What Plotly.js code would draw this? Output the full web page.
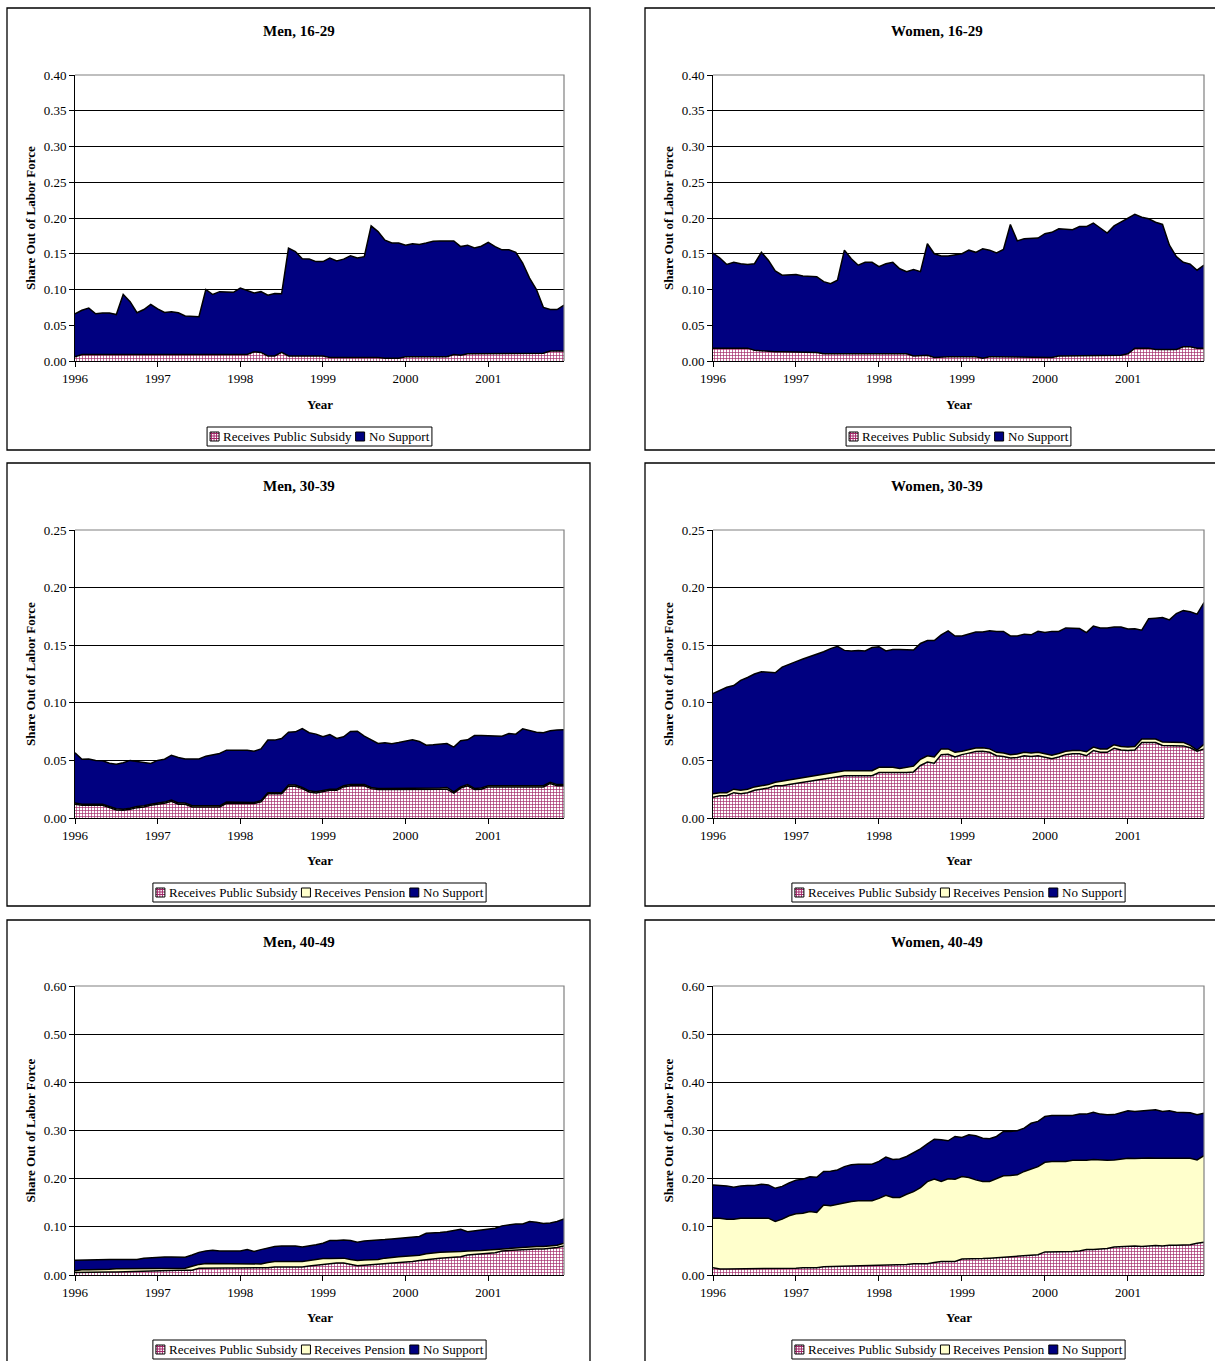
<!DOCTYPE html>
<html><head><meta charset="utf-8">
<script src="https://cdn.plot.ly/plotly-3.0.1.min.js"></script>
<style>html,body{margin:0;padding:0;background:#fff;} #chart{width:1215px;height:1361px;}</style>
</head><body><div id="chart"></div>
<script>
// ---------- DATA (monthly, Jan 1996 - Dec 2001) ----------
const years = ['1996','1997','1998','1999','2000','2001'];
const monthLabels = [];
years.forEach(y => { for (let m = 1; m <= 12; m++) monthLabels.push(y + '-' + (m < 10 ? '0' + m : m)); });
const yearTickVals = years.map(y => y + '-01');

// Men, 16-29 (cumulative boundaries)
const men1629Subsidy = [0.006,0.009,0.009,0.009,0.009,0.009,0.009,0.009,0.010,0.009,0.009,0.009,
 0.009,0.009,0.009,0.009,0.009,0.009,0.009,0.009,0.009,0.009,0.009,0.010,
 0.009,0.009,0.013,0.012,0.007,0.007,0.012,0.007,0.007,0.007,0.007,0.007,
 0.007,0.005,0.005,0.005,0.005,0.005,0.006,0.006,0.005,0.004,0.004,0.004,
 0.006,0.006,0.006,0.006,0.006,0.006,0.006,0.009,0.008,0.010,0.010,0.011,
 0.011,0.011,0.011,0.011,0.011,0.011,0.011,0.011,0.011,0.014,0.014,0.014];
const men1629Total = [0.066,0.071,0.074,0.066,0.067,0.067,0.065,0.093,0.083,0.0675,0.072,0.079,
 0.073,0.068,0.069,0.0675,0.063,0.063,0.062,0.100,0.093,0.097,0.097,0.096,
 0.102,0.099,0.095,0.097,0.092,0.0945,0.094,0.158,0.153,0.143,0.1425,0.139,
 0.139,0.144,0.140,0.1425,0.147,0.144,0.146,0.189,0.181,0.169,0.165,0.165,
 0.162,0.164,0.163,0.165,0.1675,0.168,0.1685,0.168,0.160,0.162,0.158,0.1605,
 0.166,0.160,0.1555,0.1555,0.152,0.137,0.116,0.100,0.075,0.072,0.072,0.078];

// Women, 16-29
const women1629Subsidy = [0.018,0.018,0.018,0.018,0.018,0.018,0.015,0.014,0.013,0.013,0.013,0.013,
 0.012,0.012,0.012,0.012,0.010,0.010,0.011,0.011,0.011,0.010,0.010,0.010,
 0.010,0.010,0.010,0.010,0.010,0.007,0.008,0.008,0.005,0.006,0.006,0.006,
 0.006,0.006,0.006,0.004,0.006,0.006,0.006,0.005,0.005,0.005,0.005,0.005,
 0.005,0.005,0.007,0.007,0.007,0.007,0.007,0.007,0.007,0.007,0.007,0.008,
 0.010,0.018,0.018,0.018,0.016,0.016,0.016,0.016,0.020,0.020,0.018,0.018];
const women1629Total = [0.151,0.144,0.135,0.138,0.136,0.135,0.136,0.152,0.141,0.126,0.120,0.120,
 0.121,0.119,0.118,0.118,0.111,0.108,0.113,0.155,0.143,0.134,0.138,0.138,
 0.132,0.136,0.138,0.129,0.125,0.128,0.125,0.164,0.150,0.147,0.147,0.149,
 0.150,0.155,0.152,0.157,0.155,0.151,0.156,0.191,0.168,0.171,0.171,0.172,
 0.178,0.180,0.185,0.184,0.1835,0.188,0.188,0.193,0.186,0.179,0.189,0.194,
 0.199,0.205,0.201,0.199,0.194,0.191,0.162,0.146,0.138,0.1355,0.127,0.134];

// Men, 30-39
const men3039Subsidy = [0.012,0.011,0.011,0.011,0.011,0.009,0.007,0.0067,0.0075,0.009,0.0096,0.011,
 0.0116,0.0128,0.0145,0.012,0.012,0.0096,0.0096,0.0096,0.0096,0.0096,0.0128,0.0125,
 0.0125,0.0125,0.0125,0.014,0.021,0.021,0.021,0.0276,0.0276,0.0255,0.0226,0.0217,
 0.0226,0.024,0.024,0.027,0.028,0.028,0.028,0.0255,0.0247,0.0247,0.0247,0.0247,
 0.0247,0.0247,0.0247,0.0247,0.0247,0.025,0.025,0.0217,0.026,0.028,0.0247,0.025,
 0.027,0.027,0.027,0.027,0.027,0.027,0.027,0.027,0.027,0.030,0.028,0.028];
const men3039PensionTop = [0.013,0.012,0.012,0.012,0.012,0.010,0.008,0.0077,0.0085,0.010,0.0106,0.012,
 0.0126,0.0138,0.0155,0.013,0.013,0.0106,0.0106,0.0106,0.0106,0.0106,0.0138,0.0138,
 0.0138,0.0138,0.0135,0.015,0.022,0.022,0.022,0.0286,0.0286,0.0265,0.0236,0.0227,
 0.0236,0.025,0.025,0.028,0.029,0.029,0.029,0.0265,0.0257,0.0257,0.0257,0.0257,
 0.0257,0.0257,0.0257,0.0257,0.0257,0.026,0.0265,0.0227,0.027,0.029,0.0257,0.026,
 0.028,0.028,0.028,0.028,0.028,0.028,0.028,0.028,0.028,0.031,0.029,0.029];
const men3039Total = [0.0566,0.051,0.0513,0.050,0.0496,0.0476,0.0467,0.048,0.050,0.049,0.0484,0.0473,
 0.050,0.051,0.0545,0.0525,0.0513,0.051,0.0513,0.0537,0.0548,0.056,0.0589,0.0589,
 0.0583,0.0589,0.058,0.060,0.0676,0.0676,0.069,0.0745,0.0748,0.0777,0.074,0.0728,
 0.0705,0.0725,0.069,0.0705,0.0751,0.0754,0.071,0.068,0.0647,0.0653,0.0644,0.0655,
 0.067,0.068,0.0664,0.0632,0.0635,0.0644,0.0647,0.0615,0.067,0.0679,0.0716,0.0716,
 0.0713,0.071,0.071,0.0734,0.0728,0.0774,0.0757,0.0745,0.074,0.0757,0.0763,0.0766];

// Women, 30-39
const women3039Subsidy = [0.018,0.0193,0.0193,0.022,0.021,0.022,0.024,0.025,0.026,0.028,0.028,0.029,
 0.030,0.031,0.032,0.0326,0.034,0.0346,0.036,0.0367,0.0367,0.0367,0.0367,0.0367,
 0.0395,0.0395,0.0395,0.039,0.0395,0.040,0.0456,0.0485,0.0476,0.055,0.0554,0.053,
 0.055,0.0563,0.0577,0.058,0.057,0.054,0.0534,0.052,0.0525,0.054,0.0534,0.054,
 0.0525,0.0514,0.053,0.055,0.0557,0.0557,0.054,0.0586,0.057,0.057,0.0606,0.059,
 0.0586,0.059,0.0655,0.0655,0.0655,0.063,0.063,0.063,0.0626,0.061,0.058,0.060];
const women3039PensionTop = [0.021,0.022,0.022,0.025,0.024,0.025,0.027,0.028,0.029,0.031,0.032,0.033,
 0.034,0.035,0.036,0.0366,0.038,0.0386,0.040,0.041,0.041,0.041,0.041,0.041,
 0.044,0.044,0.044,0.043,0.044,0.045,0.051,0.054,0.053,0.060,0.060,0.057,
 0.058,0.0593,0.0607,0.061,0.060,0.057,0.0564,0.055,0.0555,0.057,0.0564,0.057,
 0.0555,0.0544,0.056,0.058,0.0587,0.0587,0.0575,0.0616,0.060,0.060,0.0636,0.062,
 0.0616,0.062,0.0685,0.0685,0.0685,0.066,0.066,0.066,0.0656,0.063,0.059,0.064];
const women3039Total = [0.108,0.111,0.1135,0.115,0.1195,0.122,0.125,0.127,0.1267,0.126,0.131,0.1337,
 0.1357,0.138,0.140,0.142,0.1443,0.147,0.149,0.1455,0.145,0.1455,0.145,0.148,
 0.1487,0.145,0.1463,0.1463,0.1463,0.1458,0.1515,0.154,0.154,0.159,0.1625,0.158,
 0.158,0.1596,0.1614,0.1614,0.1625,0.162,0.162,0.158,0.158,0.1596,0.159,0.162,
 0.161,0.162,0.162,0.165,0.165,0.1645,0.161,0.1666,0.165,0.165,0.1657,0.1657,
 0.164,0.1643,0.163,0.173,0.1735,0.174,0.172,0.1775,0.180,0.179,0.177,0.187];

// Men, 40-49
const men4049Subsidy = [0.005,0.0055,0.0055,0.0055,0.006,0.006,0.006,0.0065,0.007,0.007,0.008,0.008,
 0.0097,0.0097,0.0097,0.0097,0.0097,0.010,0.014,0.0145,0.0145,0.0145,0.0145,0.0145,
 0.0145,0.015,0.015,0.015,0.015,0.0166,0.0166,0.0166,0.0166,0.0166,0.0187,0.020,
 0.022,0.024,0.025,0.025,0.022,0.019,0.020,0.021,0.022,0.0235,0.025,0.026,
 0.027,0.028,0.030,0.031,0.033,0.0347,0.036,0.036,0.038,0.0416,0.043,0.0437,
 0.045,0.0464,0.050,0.051,0.052,0.052,0.053,0.054,0.054,0.0554,0.057,0.060];
const men4049PensionTop = [0.009,0.011,0.011,0.011,0.012,0.012,0.013,0.013,0.013,0.013,0.014,0.014,
 0.014,0.014,0.014,0.014,0.014,0.018,0.022,0.024,0.024,0.024,0.024,0.024,
 0.024,0.023,0.023,0.023,0.026,0.028,0.028,0.028,0.028,0.028,0.030,0.032,
 0.034,0.034,0.034,0.035,0.032,0.030,0.031,0.032,0.032,0.035,0.037,0.038,
 0.039,0.040,0.041,0.044,0.046,0.047,0.048,0.048,0.049,0.050,0.050,0.051,
 0.052,0.053,0.055,0.056,0.057,0.058,0.059,0.059,0.059,0.060,0.062,0.066];
const men4049Total = [0.0305,0.031,0.031,0.031,0.033,0.032,0.032,0.032,0.032,0.032,0.0347,0.036,
 0.0374,0.0374,0.0374,0.0374,0.037,0.0416,0.047,0.050,0.0513,0.050,0.050,0.050,
 0.050,0.0527,0.049,0.0527,0.0554,0.059,0.060,0.060,0.060,0.058,0.060,0.063,
 0.066,0.0714,0.0714,0.0728,0.0714,0.068,0.0707,0.0714,0.0714,0.0735,0.075,0.0762,
 0.0776,0.0776,0.080,0.0866,0.0866,0.088,0.090,0.092,0.095,0.090,0.0915,0.0935,
 0.0956,0.097,0.102,0.104,0.106,0.106,0.111,0.1095,0.107,0.108,0.111,0.1165];

// Women, 40-49
const women4049Subsidy = [0.0152,0.0125,0.0125,0.0125,0.0125,0.0125,0.0125,0.0125,0.013,0.013,0.0135,0.014,
 0.014,0.015,0.015,0.015,0.017,0.0175,0.018,0.0185,0.019,0.019,0.0195,0.020,
 0.020,0.021,0.021,0.021,0.022,0.0236,0.0236,0.0236,0.026,0.028,0.028,0.028,
 0.033,0.033,0.034,0.034,0.035,0.036,0.037,0.038,0.039,0.040,0.040,0.042,
 0.048,0.048,0.048,0.049,0.049,0.050,0.053,0.053,0.054,0.055,0.058,0.059,
 0.060,0.060,0.059,0.060,0.061,0.060,0.062,0.062,0.062,0.063,0.066,0.068];
const women4049PensionTop = [0.118,0.118,0.116,0.116,0.118,0.118,0.118,0.118,0.118,0.111,0.116,0.123,
 0.127,0.128,0.1317,0.130,0.1455,0.144,0.147,0.149,0.1525,0.154,0.154,0.154,
 0.159,0.1656,0.161,0.161,0.1677,0.173,0.1816,0.194,0.199,0.194,0.1996,0.199,
 0.2044,0.2024,0.1975,0.194,0.194,0.1996,0.206,0.2065,0.208,0.215,0.2197,0.225,
 0.234,0.2356,0.2356,0.2356,0.238,0.238,0.238,0.240,0.239,0.238,0.239,0.241,
 0.2425,0.242,0.243,0.243,0.2425,0.2425,0.2425,0.241,0.241,0.2425,0.239,0.248];
const women4049Total = [0.187,0.1865,0.185,0.182,0.185,0.1857,0.1857,0.1885,0.187,0.180,0.184,0.191,
 0.197,0.199,0.204,0.203,0.215,0.2155,0.218,0.225,0.229,0.230,0.230,0.230,
 0.236,0.245,0.240,0.241,0.246,0.254,0.262,0.272,0.282,0.281,0.2786,0.2876,
 0.2855,0.291,0.289,0.284,0.283,0.2876,0.298,0.298,0.2994,0.305,0.315,0.319,
 0.329,0.331,0.331,0.331,0.331,0.334,0.334,0.338,0.334,0.3326,0.333,0.337,
 0.341,0.3396,0.341,0.341,0.343,0.3396,0.341,0.338,0.338,0.337,0.3326,0.336];

const seriesNames = { sub: 'Receives Public Subsidy', pen: 'Receives Pension', none: 'No Support' };

// ---------- STYLE / LAYOUT ----------
const W = 1215, H = 1361;
const FONT = "'Liberation Serif', 'Times New Roman', Times, serif";
const NAVY = '#000080', CREAM = '#FFFFCC', PINK = '#a3286a';
const px = x => x / W, py = y => 1 - y / H;

const cols = [
  { boxL: 7, boxR: 590, l: 75, r: 564, titleX: 298.5, yTitleX: 30 },
  { boxL: 645, boxR: 1232, l: 713, r: 1204, titleX: 937, yTitleX: 668 }
];
const rows = [
  { boxT: 8, boxB: 450, t: 75, b: 361, titleY: 31, yearY: 404, legT: 427 },
  { boxT: 463, boxB: 906, t: 530, b: 818, titleY: 486, yearY: 860, legT: 883 },
  { boxT: 920, boxB: 1372, t: 986, b: 1275, titleY: 942, yearY: 1317, legT: 1340 }
];

const panels = [
  { title: 'Men, 16-29', c: 0, r: 0, ymax: 0.40, dtick: 0.05, layers: [['sub', men1629Subsidy], ['none', men1629Total]] },
  { title: 'Women, 16-29', c: 1, r: 0, ymax: 0.40, dtick: 0.05, layers: [['sub', women1629Subsidy], ['none', women1629Total]] },
  { title: 'Men, 30-39', c: 0, r: 1, ymax: 0.25, dtick: 0.05, layers: [['sub', men3039Subsidy], ['pen', men3039PensionTop], ['none', men3039Total]] },
  { title: 'Women, 30-39', c: 1, r: 1, ymax: 0.25, dtick: 0.05, layers: [['sub', women3039Subsidy], ['pen', women3039PensionTop], ['none', women3039Total]] },
  { title: 'Men, 40-49', c: 0, r: 2, ymax: 0.60, dtick: 0.10, layers: [['sub', men4049Subsidy], ['pen', men4049PensionTop], ['none', men4049Total]] },
  { title: 'Women, 40-49', c: 1, r: 2, ymax: 0.60, dtick: 0.10, layers: [['sub', women4049Subsidy], ['pen', women4049PensionTop], ['none', women4049Total]] }
];

const canvas = document.createElement('canvas');
const ctx = canvas.getContext('2d');
ctx.font = "13px 'Liberation Serif'";
const textW = s => ctx.measureText(s).width;

const data = [];
const layout = {
  width: W, height: H, margin: { l: 0, r: 0, t: 0, b: 0 },
  paper_bgcolor: '#ffffff', plot_bgcolor: '#ffffff',
  showlegend: false, font: { family: FONT, size: 13, color: '#000' },
  shapes: [], annotations: []
};

panels.forEach((p, k) => {
  const n = k + 1;
  const col = cols[p.c], row = rows[p.r];
  const xa = 'x' + (n === 1 ? '' : n), ya = 'y' + (n === 1 ? '' : n);
  const xKey = 'xaxis' + (n === 1 ? '' : n), yKey = 'yaxis' + (n === 1 ? '' : n);

  p.layers.forEach(([kind, vals], li) => {
    const tr = {
      type: 'scatter', mode: 'lines', x: monthLabels, y: vals, name: seriesNames[kind],
      xaxis: xa, yaxis: ya, hoverinfo: 'skip',
      line: { color: '#000', width: 1.5, shape: 'linear' },
      fill: li === 0 ? 'tozeroy' : 'tonexty'
    };
    if (kind === 'sub') {
      tr.fillcolor = '#ffffff';
      tr.fillpattern = { shape: '+', fgcolor: PINK, bgcolor: '#ffffff', size: 3, solidity: 0.4, fillmode: 'replace' };
    } else if (kind === 'pen') {
      tr.fillcolor = CREAM;
    } else {
      tr.fillcolor = NAVY;
    }
    data.push(tr);
  });

  layout[xKey] = {
    domain: [px(col.l), px(col.r)], anchor: ya, type: 'category',
    range: [0, 71], tickmode: 'array', tickvals: yearTickVals, ticktext: years,
    ticks: 'outside', ticklen: 5, tickwidth: 1, tickcolor: '#000',
    showline: true, linecolor: '#000', linewidth: 1, showgrid: false, zeroline: false,
    tickfont: { family: FONT, size: 13, color: '#000' }, fixedrange: true
  };
  layout[yKey] = {
    domain: [py(row.b), py(row.t)], anchor: xa,
    range: [0, p.ymax], dtick: p.dtick, tick0: 0, tickformat: '.2f',
    ticks: 'outside', ticklen: 5, tickwidth: 1, tickcolor: '#000',
    showline: true, linecolor: '#000', linewidth: 1,
    showgrid: true, gridcolor: '#000', gridwidth: 1, zeroline: false,
    tickfont: { family: FONT, size: 13, color: '#000' }, fixedrange: true
  };

  // outer chart box
  layout.shapes.push({ type: 'rect', xref: 'paper', yref: 'paper',
    x0: px(col.boxL), x1: px(col.boxR), y0: py(row.boxB), y1: py(row.boxT),
    line: { color: '#000', width: 1.3 }, fillcolor: 'rgba(0,0,0,0)', layer: 'below' });
  // plot area border (grey right/top edges)
  layout.shapes.push({ type: 'path', xref: 'paper', yref: 'paper',
    path: `M${px(col.l)},${py(row.t)} L${px(col.r)},${py(row.t)} L${px(col.r)},${py(row.b)}`,
    line: { color: '#808080', width: 1.2 }, layer: 'above' });

  const cx = (col.l + col.r) / 2;
  layout.annotations.push({ xref: 'paper', yref: 'paper', x: px(col.titleX), y: py(row.titleY),
    text: '<b>' + p.title + '</b>', showarrow: false, xanchor: 'center', yanchor: 'middle',
    font: { family: FONT, size: 15, color: '#000' } });
  layout.annotations.push({ xref: 'paper', yref: 'paper', x: px(col.yTitleX), y: py((row.t + row.b) / 2),
    text: '<b>Share Out of Labor Force</b>', textangle: -90, showarrow: false, xanchor: 'center', yanchor: 'middle',
    font: { family: FONT, size: 13, color: '#000' } });
  layout.annotations.push({ xref: 'paper', yref: 'paper', x: px(cx), y: py(row.yearY),
    text: '<b>Year</b>', showarrow: false, xanchor: 'center', yanchor: 'middle',
    font: { family: FONT, size: 13, color: '#000' } });

  // legend (box, swatches, labels)
  const items = p.layers.map(([kind]) => kind);
  const pad = 3, sw = 9, gapIcon = 3, gapItem = 5;
  let total = pad;
  items.forEach((kind, i) => { total += sw + gapIcon + textW(seriesNames[kind]) + (i < items.length - 1 ? gapItem : 0); });
  total += pad + 1;
  const lh = 19, lt = row.legT, ll = cx - total / 2, midY = lt + lh / 2;
  layout.shapes.push({ type: 'rect', xref: 'paper', yref: 'paper',
    x0: px(ll), x1: px(ll + total), y0: py(lt + lh), y1: py(lt),
    line: { color: '#000', width: 1 }, fillcolor: '#fff', layer: 'below' });
  let cur = ll + pad;
  items.forEach((kind, i) => {
    const s0 = cur, s1 = cur + sw, t0 = midY - sw / 2, t1 = midY + sw / 2;
    if (kind === 'sub') {
      layout.shapes.push({ type: 'rect', xref: 'paper', yref: 'paper', x0: px(s0), x1: px(s1), y0: py(t1), y1: py(t0),
        line: { width: 0 }, fillcolor: '#fff', layer: 'above' });
      let d = '';
      for (let g = s0 + 1.5; g < s1; g += 2.5) d += `M${px(g)},${py(t0)} L${px(g)},${py(t1)} `;
      for (let g = t0 + 1.5; g < t1; g += 2.5) d += `M${px(s0)},${py(g)} L${px(s1)},${py(g)} `;
      layout.shapes.push({ type: 'path', xref: 'paper', yref: 'paper', path: d, line: { color: PINK, width: 1 }, layer: 'above' });
      layout.shapes.push({ type: 'rect', xref: 'paper', yref: 'paper', x0: px(s0), x1: px(s1), y0: py(t1), y1: py(t0),
        line: { color: '#000', width: 1 }, fillcolor: 'rgba(0,0,0,0)', layer: 'above' });
    } else {
      layout.shapes.push({ type: 'rect', xref: 'paper', yref: 'paper', x0: px(s0), x1: px(s1), y0: py(t1), y1: py(t0),
        line: { color: '#000', width: 1 }, fillcolor: kind === 'pen' ? CREAM : NAVY, layer: 'above' });
    }
    cur = s1 + gapIcon;
    layout.annotations.push({ xref: 'paper', yref: 'paper', x: px(cur), y: py(midY),
      text: seriesNames[kind], showarrow: false, xanchor: 'left', yanchor: 'middle',
      font: { family: FONT, size: 13, color: '#000' }, borderpad: 0 });
    cur += textW(seriesNames[kind]) + gapItem;
  });
});

Plotly.newPlot('chart', data, layout, { staticPlot: true, displayModeBar: false });
</script>
</body></html>
